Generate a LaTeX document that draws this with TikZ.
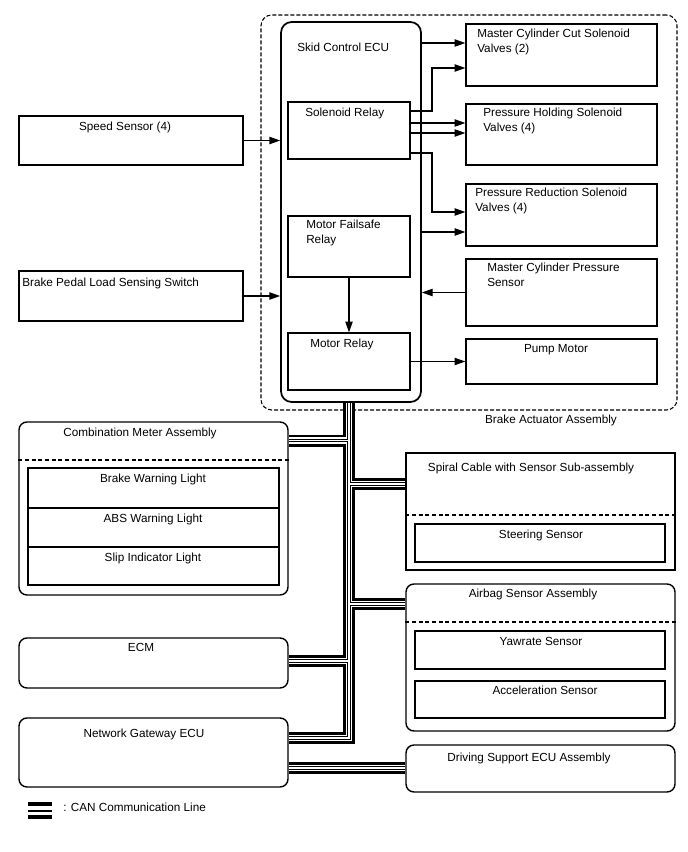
\documentclass[tikz,border=0pt]{standalone}
\usepackage{fontspec}
\setmainfont{Liberation Sans}
\usetikzlibrary{arrows.meta,fit,backgrounds}

\begin{document}
\begin{tikzpicture}[x=0.75pt,y=-0.75pt]
\tikzset{
  box/.style={draw,line width=1.05pt,inner sep=0pt},
  roundbox/.style={box,rounded corners=6pt},
  innerbox/.style={draw,line width=0.95pt,inner sep=0pt},
  txt/.style={inner sep=0pt,anchor=north,align=center,font=\fontsize{8.8}{10.9}\selectfont},
  txtl/.style={txt,anchor=north west,align=left},
  sig/.style={-{Triangle[length=8pt,width=5.5pt]},line width=0.8pt},
  sepline/.style={line width=0.8pt,dash pattern=on 3pt off 2pt},
  canline/.style={line join=miter}
}
\useasboundingbox (0,0) rectangle (688,852);
% brake actuator assembly
\node[box,rounded corners=8pt,line width=1.3pt,fit={(281,22) (421,402)}] (n_ecu) {};
\node[box,fit={(288,102) (410,159)}] (n_solrelay) {};
\node[box,fit={(288,216) (410,277)}] (n_failsafe) {};
\node[box,fit={(288,333) (410,390)}] (n_mrelay) {};
\node[box,fit={(466,24) (657,86)}] (n_mccut) {};
\node[box,fit={(466,104) (657,165)}] (n_phold) {};
\node[box,fit={(466,184) (657,246)}] (n_pred) {};
\node[box,fit={(466,259) (657,326)}] (n_mcsens) {};
\node[box,fit={(466,339) (657,384)}] (n_pump) {};
\node[box,fit={(19,116) (243,165)}] (n_speed) {};
\node[box,fit={(19,271) (243,321)}] (n_pedal) {};
\node[txtl] (t_ecu) at (297,43) {Skid Control ECU};
\node[txtl] (t_solrelay) at (305,108) {Solenoid Relay};
\node[txtl] (t_failsafe) at (306,220) {Motor Failsafe\\Relay};
\node[txtl] (t_mrelay) at (310,339) {Motor Relay};
\node[txtl] (t_mccut) at (477,29) {Master Cylinder Cut Solenoid\\Valves (2)};
\node[txtl] (t_phold) at (483,108) {Pressure Holding Solenoid\\Valves (4)};
\node[txtl] (t_pred) at (475,188) {Pressure Reduction Solenoid\\Valves (4)};
\node[txtl] (t_mcsens) at (487,263) {Master Cylinder Pressure\\Sensor};
\node[txt] (t_pump) at (556,344) {Pump Motor};
\node[txt] (t_speed) at (125,122) {Speed Sensor (4)};
\node[txtl] (t_pedal) at (22,278) {Brake Pedal Load Sensing Switch};
\node[txt] (t_actuator) at (551,415) {Brake Actuator Assembly};
% signal lines
\draw[sig] (n_speed.east) -- (n_speed.east -| n_ecu.west);
\draw[sig] (n_pedal.east) -- (n_pedal.east -| n_ecu.west);
\draw[sig] (n_ecu.east |- 0,43) -- (n_mccut.west |- 0,43);
\draw[sig] (n_solrelay.east |- 0,111) -| (432,68) -- (n_mccut.west |- 0,68);
\draw[sig] (n_solrelay.east |- 0,123) -- (n_phold.west |- 0,123);
\draw[sig] (n_solrelay.east |- 0,133) -- (n_phold.west |- 0,133);
\draw[sig] (n_solrelay.east |- 0,153) -| (432,212) -- (n_pred.west |- 0,212);
\draw[sig] (n_ecu.east |- 0,232) -- (n_pred.west |- 0,232);
\draw[sig] (n_mcsens.west) -- (n_mcsens.west -| n_ecu.east);
\draw[sig] (n_mrelay.east) -- (n_mrelay.east -| n_pump.west);
\draw[sig] (n_failsafe.south) -- (n_mrelay.north);
% CAN side
\node[roundbox,fit={(19,422) (288,595)}] (n_meter) {};
\node[innerbox,fit={(28,468) (279,508)}] (n_brakelight) {};
\node[innerbox,fit={(28,508) (279,547)}] (n_abslight) {};
\node[innerbox,fit={(28,547) (279,585)}] (n_sliplight) {};
\node[roundbox,fit={(19,638) (288,688)}] (n_ecm) {};
\node[roundbox,fit={(19,718) (288,787)}] (n_gateway) {};
\node[box,fit={(406,453) (675,570)}] (n_spiral) {};
\node[innerbox,fit={(415,524) (665,562)}] (n_steer) {};
\node[roundbox,fit={(406,584) (675,731)}] (n_airbag) {};
\node[innerbox,fit={(415,631) (665,669)}] (n_yaw) {};
\node[innerbox,fit={(415,681) (665,718)}] (n_accel) {};
\node[roundbox,fit={(406,745) (675,792)}] (n_drive) {};
\draw[sepline] (n_meter.west |- 0,460) -- (n_meter.east |- 0,460);
\draw[sepline] (n_spiral.west |- 0,515) -- (n_spiral.east |- 0,515);
\draw[sepline] (n_airbag.west |- 0,622) -- (n_airbag.east |- 0,622);
\node[txt] (t_meter) at (140,428) {Combination Meter Assembly};
\node[txt] (t_brakelight) at (153,474) {Brake Warning Light};
\node[txt] (t_abslight) at (153,514) {ABS Warning Light};
\node[txt] (t_sliplight) at (153,553) {Slip Indicator Light};
\node[txt] (t_ecm) at (141,643) {ECM};
\node[txt] (t_gateway) at (144,729) {Network Gateway ECU};
\node[txt] (t_spiral) at (531,463) {Spiral Cable with Sensor Sub-assembly};
\node[txt] (t_steer) at (541,530) {Steering Sensor};
\node[txt] (t_airbag) at (533,589) {Airbag Sensor Assembly};
\node[txt] (t_yaw) at (541,637) {Yawrate Sensor};
\node[txt] (t_accel) at (545,686) {Acceleration Sensor};
\node[txt] (t_drive) at (529,753) {Driving Support ECU Assembly};
\node[txtl] (t_legend) at (63,803) {: CAN Communication Line};
\foreach \yy/\w in {804/2.4pt,810.5/1.5pt,817/2.4pt}
  \draw[line width=\w] (28,\yy) -- (52,\yy);
\coordinate (n_bus) at (349,402);
\begin{scope}[on background layer]
\node[box,rounded corners=8pt,line width=0.8pt,dash pattern=on 3pt off 1.5pt,fit={(261,15) (677,410)}] (n_actuator) {};
\foreach \w/\c in {9pt/black,5.2pt/white,2.3pt/black,1.1pt/white}
  \draw[canline,line width=\w,draw=\c]
    (n_bus) -- (n_bus |- 0,738) -- (n_gateway.east |- 0,738)
    (n_bus |- 0,440.5) -- (n_meter.east |- 0,440.5)
    (n_bus |- 0,484) -- (n_spiral.west |- 0,484)
    (n_bus |- 0,604) -- (n_airbag.west |- 0,604)
    (n_bus |- 0,661) -- (n_ecm.east |- 0,661)
    (n_gateway.east |- 0,768) -- (n_drive.west |- 0,768);
\end{scope}
\end{tikzpicture}
\end{document}
